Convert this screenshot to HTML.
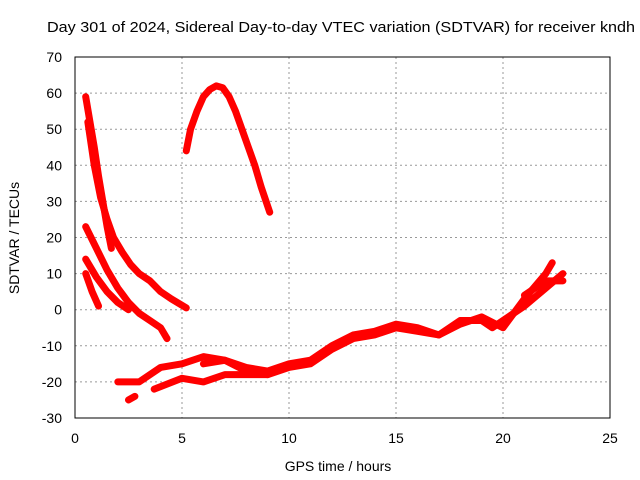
<!DOCTYPE html>
<html><head><meta charset="utf-8"><style>
body{margin:0;background:#fff;}
svg{display:block;font-family:"Liberation Sans",sans-serif;}
</style></head><body>
<svg id="chart" width="640" height="480">
<text x="47" y="32" font-size="15" textLength="588" lengthAdjust="spacingAndGlyphs">Day 301 of 2024, Sidereal Day-to-day VTEC variation (SDTVAR) for receiver kndh</text>
<text x="338" y="471" font-size="14" text-anchor="middle">GPS time / hours</text>
<text transform="translate(19,238) rotate(-90)" font-size="14" text-anchor="middle">SDTVAR / TECUs</text>
<g id="grid"></g><g id="ticks"></g><g id="series"></g>
<rect x="75" y="57" width="535" height="361" fill="none" stroke="#000"/>
</svg>
<script>
const xTicks=[0,5,10,15,20,25];
const yTicks=[-30,-20,-10,0,10,20,30,40,50,60,70];
const s1=[[0.5,59],[0.7,52],[0.9,45],[1.1,37],[1.3,30],[1.5,23],[1.7,17]];
const s2=[[0.6,52],[0.9,40],[1.2,31],[1.5,25],[1.8,20],[2.2,16],[2.6,12.5],[3.0,10],[3.5,8],[4.0,5],[4.5,3],[5.2,0.5]];
const s3=[[0.5,23],[1,17],[1.5,11],[2,6],[2.5,2],[3,-1],[3.5,-3],[4,-5],[4.3,-8]];
const s4=[[0.5,14],[1,9],[1.5,5],[2,2],[2.5,0]];
const s5=[[0.5,10],[0.8,5],[1.1,1]];
const s6=[[5.2,44],[5.4,50],[5.7,55],[6,59],[6.3,61],[6.6,62],[6.9,61.5],[7.2,59],[7.5,55],[7.8,50],[8.1,45],[8.4,40],[8.7,34],[9.1,27]];
const s7=[[2,-20],[3,-20],[4,-16],[5,-15],[6,-13],[7,-14],[8,-16],[9,-17],[10,-15],[11,-14],[12,-10],[13,-7],[14,-6],[15,-4],[16,-5],[17,-7],[18,-3],[19,-3],[19.5,-5],[20,-3],[21,1],[22,6],[22.8,10]];
const s8=[[3.7,-22],[5,-19],[6,-20],[7,-18],[8,-18],[9,-18],[10,-16],[11,-15],[12,-11],[13,-8],[14,-7],[15,-5],[16,-6],[17,-7],[18,-4],[19,-2],[20,-5],[21,3],[22,10],[22.3,13]];
const s9=[[6,-15],[7,-14],[8,-17],[9,-18]];
const s10=[[2.5,-25],[2.8,-24]];
const s11=[[21,4],[22,8],[22.8,8]];
const allSeries=[s1,s2,s3,s4,s5,s6,s7,s8,s9,s10,s11];
const NS='http://www.w3.org/2000/svg';
const X=v=>75+v*535/25, Y=v=>418-(v+30)*361/100;
const g=document.getElementById('grid'),t=document.getElementById('ticks'),se=document.getElementById('series');
function mk(tag,attrs,parent){const e=document.createElementNS(NS,tag);for(const k in attrs)e.setAttribute(k,attrs[k]);parent.appendChild(e);return e;}
xTicks.forEach(v=>{
 if(v>0&&v<25){const l=mk('line',{x1:X(v),x2:X(v),y1:57,y2:418,stroke:'#999','stroke-dasharray':'2,3'},g);
 
 }
 const tx=mk('text',{x:X(v),y:443,'font-size':14,'text-anchor':'middle'},t);tx.textContent=v;
 
 
});
yTicks.forEach(v=>{
 if(v>-30&&v<70){const l=mk('line',{x1:75,x2:610,y1:Y(v),y2:Y(v),stroke:'#999','stroke-dasharray':'2,3'},g);
 
 }
 const tx=mk('text',{x:62,y:Y(v)+5,'font-size':14,'text-anchor':'end'},t);tx.textContent=v;
 
 
});
allSeries.forEach((s,i)=>{
 const p=mk('polyline',{points:s.map(d=>X(d[0])+','+Y(d[1])).join(' '),fill:'none',stroke:'#f00','stroke-width':7,'stroke-linejoin':'round','stroke-linecap':'round'},se);
 
 
});
</script>
</body></html>
